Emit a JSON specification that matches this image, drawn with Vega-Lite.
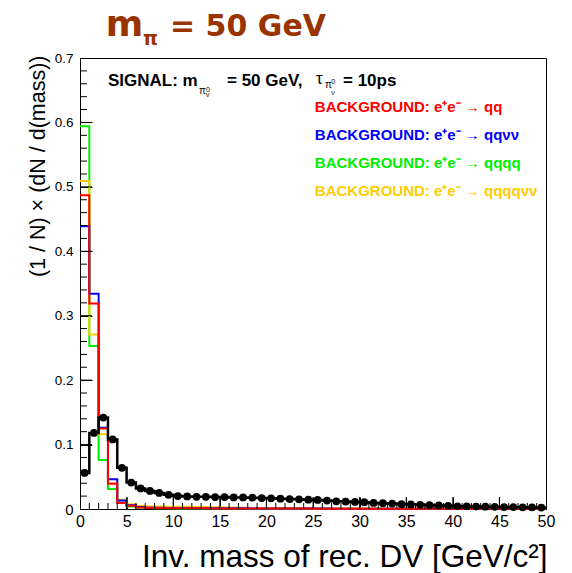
{
  "$schema": "https://vega.github.io/schema/vega-lite/v6.json",
  "width": 466,
  "height": 451,
  "autosize": {"type": "none"},
  "padding": {"left": 80, "top": 58, "right": 26, "bottom": 64},
  "background": "white",
  "config": {
    "view": {"stroke": "#000000", "strokeWidth": 1},
    "font": "Liberation Sans",
    "axis": {"grid": false, "labelFlush": false, "ticks": true, "tickWidth": 1, "tickOpacity": 1, "tickColor": "#000000", "domainColor": "#000000", "labelColor": "#000000", "zindex": 1}
  },
  "resolve": {"axis": {"x": "independent", "y": "independent"}},
  "datasets": {
    "bins": [
      {"lo": 0, "hi": 1, "mid": 0.5, "qqqq": 0.594, "qqqqvv": 0.509, "qqvv": 0.439, "qq": 0.487, "sig": 0.056},
      {"lo": 1, "hi": 2, "mid": 1.5, "qqqq": 0.253, "qqqqvv": 0.271, "qqvv": 0.334, "qq": 0.319, "sig": 0.118},
      {"lo": 2, "hi": 3, "mid": 2.5, "qqqq": 0.076, "qqqqvv": 0.116, "qqvv": 0.126, "qq": 0.125, "sig": 0.142},
      {"lo": 3, "hi": 4, "mid": 3.5, "qqqq": 0.031, "qqqqvv": 0.040, "qqvv": 0.046, "qq": 0.039, "sig": 0.108},
      {"lo": 4, "hi": 5, "mid": 4.5, "qqqq": 0.010, "qqqqvv": 0.0145, "qqvv": 0.013, "qq": 0.0093, "sig": 0.064},
      {"lo": 5, "hi": 6, "mid": 5.5, "qqqq": 0.004, "qqqqvv": 0.0075, "qqvv": 0.006, "qq": 0.005, "sig": 0.041},
      {"lo": 6, "hi": 7, "mid": 6.5, "qqqq": 0.0025, "qqqqvv": 0.0045, "qqvv": 0.003, "qq": 0.0025, "sig": 0.032},
      {"lo": 7, "hi": 8, "mid": 7.5, "qqqq": 0.0015, "qqqqvv": 0.004, "qqvv": 0.002, "qq": 0.0018, "sig": 0.028},
      {"lo": 8, "hi": 9, "mid": 8.5, "qqqq": 0.0012, "qqqqvv": 0.0038, "qqvv": 0.0018, "qq": 0.0015, "sig": 0.025},
      {"lo": 9, "hi": 10, "mid": 9.5, "qqqq": 0.001, "qqqqvv": 0.0036, "qqvv": 0.0016, "qq": 0.0013, "sig": 0.022},
      {"lo": 10, "hi": 11, "mid": 10.5, "qqqq": 0.0009, "qqqqvv": 0.0035, "qqvv": 0.0015, "qq": 0.0012, "sig": 0.020},
      {"lo": 11, "hi": 12, "mid": 11.5, "qqqq": 0.0008, "qqqqvv": 0.0034, "qqvv": 0.0014, "qq": 0.0011, "sig": 0.0195},
      {"lo": 12, "hi": 13, "mid": 12.5, "qqqq": 0.0008, "qqqqvv": 0.0032, "qqvv": 0.0013, "qq": 0.001, "sig": 0.019},
      {"lo": 13, "hi": 14, "mid": 13.5, "qqqq": 0.0007, "qqqqvv": 0.003, "qqvv": 0.0012, "qq": 0.001, "sig": 0.019},
      {"lo": 14, "hi": 15, "mid": 14.5, "qqqq": 0.0007, "qqqqvv": 0.0026, "qqvv": 0.0012, "qq": 0.0009, "sig": 0.0185},
      {"lo": 15, "hi": 16, "mid": 15.5, "qqqq": 0.0006, "qqqqvv": 0.0022, "qqvv": 0.0011, "qq": 0.0009, "sig": 0.0185},
      {"lo": 16, "hi": 17, "mid": 16.5, "qqqq": 0.0006, "qqqqvv": 0.002, "qqvv": 0.001, "qq": 0.0008, "sig": 0.018},
      {"lo": 17, "hi": 18, "mid": 17.5, "qqqq": 0.0006, "qqqqvv": 0.0018, "qqvv": 0.001, "qq": 0.0008, "sig": 0.018},
      {"lo": 18, "hi": 19, "mid": 18.5, "qqqq": 0.0005, "qqqqvv": 0.0016, "qqvv": 0.0009, "qq": 0.0008, "sig": 0.0175},
      {"lo": 19, "hi": 20, "mid": 19.5, "qqqq": 0.0005, "qqqqvv": 0.0015, "qqvv": 0.0009, "qq": 0.0007, "sig": 0.017},
      {"lo": 20, "hi": 21, "mid": 20.5, "qqqq": 0.0005, "qqqqvv": 0.0014, "qqvv": 0.0008, "qq": 0.0007, "sig": 0.0165},
      {"lo": 21, "hi": 22, "mid": 21.5, "qqqq": 0.0005, "qqqqvv": 0.0013, "qqvv": 0.0008, "qq": 0.0007, "sig": 0.016},
      {"lo": 22, "hi": 23, "mid": 22.5, "qqqq": 0.0004, "qqqqvv": 0.0012, "qqvv": 0.0007, "qq": 0.0006, "sig": 0.0155},
      {"lo": 23, "hi": 24, "mid": 23.5, "qqqq": 0.0004, "qqqqvv": 0.0011, "qqvv": 0.0007, "qq": 0.0006, "sig": 0.015},
      {"lo": 24, "hi": 25, "mid": 24.5, "qqqq": 0.0004, "qqqqvv": 0.001, "qqvv": 0.0006, "qq": 0.0006, "sig": 0.0145},
      {"lo": 25, "hi": 26, "mid": 25.5, "qqqq": 0.0004, "qqqqvv": 0.0009, "qqvv": 0.0006, "qq": 0.0005, "sig": 0.014},
      {"lo": 26, "hi": 27, "mid": 26.5, "qqqq": 0.0003, "qqqqvv": 0.0009, "qqvv": 0.0006, "qq": 0.0005, "sig": 0.013},
      {"lo": 27, "hi": 28, "mid": 27.5, "qqqq": 0.0003, "qqqqvv": 0.0008, "qqvv": 0.0005, "qq": 0.0005, "sig": 0.012},
      {"lo": 28, "hi": 29, "mid": 28.5, "qqqq": 0.0003, "qqqqvv": 0.0007, "qqvv": 0.0005, "qq": 0.0005, "sig": 0.0115},
      {"lo": 29, "hi": 30, "mid": 29.5, "qqqq": 0.0003, "qqqqvv": 0.0007, "qqvv": 0.0005, "qq": 0.0004, "sig": 0.011},
      {"lo": 30, "hi": 31, "mid": 30.5, "qqqq": 0.0003, "qqqqvv": 0.0006, "qqvv": 0.0004, "qq": 0.0004, "sig": 0.0105},
      {"lo": 31, "hi": 32, "mid": 31.5, "qqqq": 0.0002, "qqqqvv": 0.0006, "qqvv": 0.0004, "qq": 0.0004, "sig": 0.0095},
      {"lo": 32, "hi": 33, "mid": 32.5, "qqqq": 0.0002, "qqqqvv": 0.0005, "qqvv": 0.0004, "qq": 0.0004, "sig": 0.009},
      {"lo": 33, "hi": 34, "mid": 33.5, "qqqq": 0.0002, "qqqqvv": 0.0005, "qqvv": 0.0004, "qq": 0.0003, "sig": 0.0085},
      {"lo": 34, "hi": 35, "mid": 34.5, "qqqq": 0.0002, "qqqqvv": 0.0004, "qqvv": 0.0003, "qq": 0.0003, "sig": 0.0075},
      {"lo": 35, "hi": 36, "mid": 35.5, "qqqq": 0.0002, "qqqqvv": 0.0004, "qqvv": 0.0003, "qq": 0.0003, "sig": 0.007},
      {"lo": 36, "hi": 37, "mid": 36.5, "qqqq": 0.0002, "qqqqvv": 0.0004, "qqvv": 0.0003, "qq": 0.0003, "sig": 0.0065},
      {"lo": 37, "hi": 38, "mid": 37.5, "qqqq": 0.0002, "qqqqvv": 0.0003, "qqvv": 0.0003, "qq": 0.0003, "sig": 0.006},
      {"lo": 38, "hi": 39, "mid": 38.5, "qqqq": 0.0001, "qqqqvv": 0.0003, "qqvv": 0.0003, "qq": 0.0003, "sig": 0.0055},
      {"lo": 39, "hi": 40, "mid": 39.5, "qqqq": 0.0001, "qqqqvv": 0.0003, "qqvv": 0.0002, "qq": 0.0002, "sig": 0.005},
      {"lo": 40, "hi": 41, "mid": 40.5, "qqqq": 0.0001, "qqqqvv": 0.0003, "qqvv": 0.0002, "qq": 0.0002, "sig": 0.0042},
      {"lo": 41, "hi": 42, "mid": 41.5, "qqqq": 0.0001, "qqqqvv": 0.0002, "qqvv": 0.0002, "qq": 0.0002, "sig": 0.004},
      {"lo": 42, "hi": 43, "mid": 42.5, "qqqq": 0.0001, "qqqqvv": 0.0002, "qqvv": 0.0002, "qq": 0.0002, "sig": 0.0038},
      {"lo": 43, "hi": 44, "mid": 43.5, "qqqq": 0.0001, "qqqqvv": 0.0002, "qqvv": 0.0002, "qq": 0.0002, "sig": 0.0035},
      {"lo": 44, "hi": 45, "mid": 44.5, "qqqq": 0.0001, "qqqqvv": 0.0002, "qqvv": 0.0002, "qq": 0.0002, "sig": 0.0033},
      {"lo": 45, "hi": 46, "mid": 45.5, "qqqq": 0.0001, "qqqqvv": 0.0002, "qqvv": 0.0002, "qq": 0.0002, "sig": 0.003},
      {"lo": 46, "hi": 47, "mid": 46.5, "qqqq": 0.0001, "qqqqvv": 0.0002, "qqvv": 0.0001, "qq": 0.0002, "sig": 0.0028},
      {"lo": 47, "hi": 48, "mid": 47.5, "qqqq": 0.0001, "qqqqvv": 0.0001, "qqvv": 0.0001, "qq": 0.0001, "sig": 0.0026},
      {"lo": 48, "hi": 49, "mid": 48.5, "qqqq": 0.0001, "qqqqvv": 0.0001, "qqvv": 0.0001, "qq": 0.0001, "sig": 0.0024},
      {"lo": 49, "hi": 50, "mid": 49.5, "qqqq": 0.0001, "qqqqvv": 0.0001, "qqvv": 0.0001, "qq": 0.0001, "sig": 0.0022}
    ],
    "xMajorTicks": [{"m": 5}, {"m": 10}, {"m": 15}, {"m": 20}, {"m": 25}, {"m": 30}, {"m": 35}, {"m": 40}, {"m": 45}],
    "xMinorTicks": [
      {"m": 1}, {"m": 2}, {"m": 3}, {"m": 4}, {"m": 6}, {"m": 7}, {"m": 8}, {"m": 9},
      {"m": 11}, {"m": 12}, {"m": 13}, {"m": 14}, {"m": 16}, {"m": 17}, {"m": 18}, {"m": 19},
      {"m": 21}, {"m": 22}, {"m": 23}, {"m": 24}, {"m": 26}, {"m": 27}, {"m": 28}, {"m": 29},
      {"m": 31}, {"m": 32}, {"m": 33}, {"m": 34}, {"m": 36}, {"m": 37}, {"m": 38}, {"m": 39},
      {"m": 41}, {"m": 42}, {"m": 43}, {"m": 44}, {"m": 46}, {"m": 47}, {"m": 48}, {"m": 49}
    ],
    "yMajorTicks": [{"m": 0.1}, {"m": 0.2}, {"m": 0.3}, {"m": 0.4}, {"m": 0.5}, {"m": 0.6}],
    "yMinorTicks": [
      {"m": 0.02}, {"m": 0.04}, {"m": 0.06}, {"m": 0.08},
      {"m": 0.12}, {"m": 0.14}, {"m": 0.16}, {"m": 0.18},
      {"m": 0.22}, {"m": 0.24}, {"m": 0.26}, {"m": 0.28},
      {"m": 0.32}, {"m": 0.34}, {"m": 0.36}, {"m": 0.38},
      {"m": 0.42}, {"m": 0.44}, {"m": 0.46}, {"m": 0.48},
      {"m": 0.52}, {"m": 0.54}, {"m": 0.56}, {"m": 0.58},
      {"m": 0.62}, {"m": 0.64}, {"m": 0.66}, {"m": 0.68}
    ]
  },
  "layer": [
    {
      "data": {"name": "bins"},
      "transform": [
        {"fold": ["qqqq", "qqqqvv", "qqvv", "qq"], "as": ["proc", "v"]},
        {"fold": ["lo", "hi"], "as": ["edge", "mass"]}
      ],
      "mark": {"type": "line", "strokeWidth": 2, "interpolate": "linear", "strokeJoin": "miter"},
      "encoding": {
        "x": {
          "field": "mass", "type": "quantitative",
          "scale": {"domain": [0, 50], "nice": false, "zero": false},
          "axis": {
            "orient": "bottom",
            "values": [0, 5, 10, 15, 20, 25, 30, 35, 40, 45, 50],
            "ticks": true,
            "tickSize": -12,
            "tickWidth": 1,
            "tickColor": "#000000",
            "labelFont": "Liberation Sans",
            "labelFontSize": 16,
            "labelPadding": 16,
            "labelOverlap": false,
            "title": "Inv. mass of rec. DV [GeV/c²]",
            "titleFont": "Liberation Sans",
            "titleFontSize": 31.5,
            "titleFontWeight": "normal",
            "titleColor": "#000000",
            "titleX": 467,
            "titleY": 57,
            "titleAlign": "right",
            "titleBaseline": "alphabetic"
          }
        },
        "y": {
          "field": "v", "type": "quantitative",
          "scale": {"domain": [0, 0.7], "nice": false},
          "axis": {
            "orient": "left",
            "values": [0, 0.1, 0.2, 0.3, 0.4, 0.5, 0.6, 0.7],
            "format": ".1~f",
            "ticks": true,
            "tickSize": -12,
            "tickWidth": 1,
            "tickColor": "#000000",
            "labelFont": "Liberation Sans",
            "labelFontSize": {"condition": {"test": "datum.value === 0", "value": 15}, "value": 13.5},
            "labelPadding": 19,
            "labelOverlap": false,
            "title": "(1 / N) × (dN / d(mass))",
            "titleFont": "Liberation Sans",
            "titleFontSize": 21.5,
            "titleFontWeight": "normal",
            "titleColor": "#000000",
            "titleAngle": -90,
            "titleX": -36,
            "titleY": -3,
            "titleAlign": "right",
            "titleBaseline": "alphabetic"
          }
        },
        "color": {
          "field": "proc", "type": "nominal",
          "scale": {"domain": ["qqqq", "qqqqvv", "qqvv", "qq"], "range": ["#00ee00", "#ffcc00", "#0000ff", "#ff0000"]},
          "legend": null
        },
        "order": [
          {"field": "mass", "type": "quantitative"},
          {"field": "edge", "type": "nominal"}
        ]
      }
    },
    {
      "data": {"name": "bins"},
      "transform": [
        {"fold": ["lo", "hi"], "as": ["edge", "mass"]}
      ],
      "mark": {"type": "line", "strokeWidth": 2.5, "color": "#000000", "interpolate": "linear", "strokeJoin": "miter"},
      "encoding": {
        "x": {"field": "mass", "type": "quantitative", "axis": null},
        "y": {"field": "sig", "type": "quantitative", "axis": null},
        "order": [
          {"field": "mass", "type": "quantitative"},
          {"field": "edge", "type": "nominal"}
        ]
      }
    },
    {
      "data": {"name": "bins"},
      "mark": {"type": "point", "filled": true, "color": "#000000", "opacity": 1, "size": 60, "shape": "circle"},
      "encoding": {
        "x": {"field": "mid", "type": "quantitative", "axis": null},
        "y": {"field": "sig", "type": "quantitative", "axis": null}
      }
    },
    {
      "data": {"name": "xMajorTicks"},
      "mark": {"type": "rule", "color": "#000000", "strokeWidth": 1},
      "encoding": {
        "x": {"field": "m", "type": "quantitative", "axis": null},
        "y": {"datum": 0, "axis": null},
        "y2": {"datum": 0.0186}
      }
    },
    {
      "data": {"name": "xMinorTicks"},
      "mark": {"type": "rule", "color": "#000000", "strokeWidth": 1},
      "encoding": {
        "x": {"field": "m", "type": "quantitative", "axis": null},
        "y": {"datum": 0, "axis": null},
        "y2": {"datum": 0.0093}
      }
    },
    {
      "data": {"name": "yMajorTicks"},
      "mark": {"type": "rule", "color": "#000000", "strokeWidth": 1},
      "encoding": {
        "y": {"field": "m", "type": "quantitative", "axis": null},
        "x": {"datum": 0, "axis": null},
        "x2": {"datum": 1.29}
      }
    },
    {
      "data": {"name": "yMinorTicks"},
      "mark": {"type": "rule", "color": "#000000", "strokeWidth": 1},
      "encoding": {
        "y": {"field": "m", "type": "quantitative", "axis": null},
        "x": {"datum": 0, "axis": null},
        "x2": {"datum": 0.75}
      }
    },
    {
      "data": {"values": [{"t": "m"}]},
      "mark": {"type": "text", "align": "left", "baseline": "alphabetic", "font": "DejaVu Sans", "fontWeight": "bold", "fontSize": 36, "color": "#993300"},
      "encoding": {"text": {"field": "t"}, "x": {"datum": 2.75, "axis": null}, "y": {"datum": 0.7341, "axis": null}}
    },
    {
      "data": {"values": [{"t": "π"}]},
      "mark": {"type": "text", "align": "left", "baseline": "alphabetic", "font": "DejaVu Sans", "fontWeight": "bold", "fontSize": 19, "color": "#993300"},
      "encoding": {"text": {"field": "t"}, "x": {"datum": 6.75, "axis": null}, "y": {"datum": 0.7202, "axis": null}}
    },
    {
      "data": {"values": [{"t": "= 50 GeV"}]},
      "mark": {"type": "text", "align": "left", "baseline": "alphabetic", "font": "DejaVu Sans", "fontWeight": "bold", "fontSize": 30, "color": "#993300"},
      "encoding": {"text": {"field": "t"}, "x": {"datum": 9.66, "axis": null}, "y": {"datum": 0.7341, "axis": null}}
    },
    {
      "data": {"values": [{"t": "SIGNAL: m"}]},
      "mark": {"type": "text", "align": "left", "baseline": "alphabetic", "font": "Liberation Sans", "fontWeight": "bold", "fontSize": 17, "color": "#000000"},
      "encoding": {"text": {"field": "t"}, "x": {"datum": 3.0, "axis": null}, "y": {"datum": 0.6565, "axis": null}}
    },
    {
      "data": {"values": [{"t": "π"}]},
      "mark": {"type": "text", "align": "left", "baseline": "alphabetic", "font": "Liberation Sans", "fontSize": 10, "color": "#000000"},
      "encoding": {"text": {"field": "t"}, "x": {"datum": 12.77, "axis": null}, "y": {"datum": 0.6441, "axis": null}}
    },
    {
      "data": {"values": [{"t": "0"}]},
      "mark": {"type": "text", "align": "left", "baseline": "alphabetic", "font": "Liberation Sans", "fontSize": 7, "color": "#000000"},
      "encoding": {"text": {"field": "t"}, "x": {"datum": 13.52, "axis": null}, "y": {"datum": 0.648, "axis": null}}
    },
    {
      "data": {"values": [{"t": "ν"}]},
      "mark": {"type": "text", "align": "left", "baseline": "alphabetic", "font": "Liberation Sans", "fontSize": 7, "color": "#000000"},
      "encoding": {"text": {"field": "t"}, "x": {"datum": 13.52, "axis": null}, "y": {"datum": 0.6387, "axis": null}}
    },
    {
      "data": {"values": [{"t": "= 50 GeV,"}]},
      "mark": {"type": "text", "align": "left", "baseline": "alphabetic", "font": "Liberation Sans", "fontWeight": "bold", "fontSize": 17, "color": "#000000"},
      "encoding": {"text": {"field": "t"}, "x": {"datum": 15.77, "axis": null}, "y": {"datum": 0.6565, "axis": null}}
    },
    {
      "data": {"values": [{"t": "τ"}]},
      "mark": {"type": "text", "align": "left", "baseline": "alphabetic", "font": "Liberation Sans", "fontSize": 17, "color": "#000000"},
      "encoding": {"text": {"field": "t"}, "x": {"datum": 25.32, "axis": null}, "y": {"datum": 0.6596, "axis": null}}
    },
    {
      "data": {"values": [{"t": "π"}]},
      "mark": {"type": "text", "align": "left", "baseline": "alphabetic", "font": "Liberation Sans", "fontSize": 10, "color": "#000000"},
      "encoding": {"text": {"field": "t"}, "x": {"datum": 26.28, "axis": null}, "y": {"datum": 0.6527, "axis": null}}
    },
    {
      "data": {"values": [{"t": "0"}]},
      "mark": {"type": "text", "align": "left", "baseline": "alphabetic", "font": "Liberation Sans", "fontSize": 7, "color": "#000000"},
      "encoding": {"text": {"field": "t"}, "x": {"datum": 26.95, "axis": null}, "y": {"datum": 0.66, "axis": null}}
    },
    {
      "data": {"values": [{"t": "ν"}]},
      "mark": {"type": "text", "align": "left", "baseline": "alphabetic", "font": "Liberation Sans", "fontSize": 7, "color": "#000000"},
      "encoding": {"text": {"field": "t"}, "x": {"datum": 26.95, "axis": null}, "y": {"datum": 0.6426, "axis": null}}
    },
    {
      "data": {"values": [{"t": "= 10ps"}]},
      "mark": {"type": "text", "align": "left", "baseline": "alphabetic", "font": "Liberation Sans", "fontWeight": "bold", "fontSize": 17, "color": "#000000"},
      "encoding": {"text": {"field": "t"}, "x": {"datum": 28.22, "axis": null}, "y": {"datum": 0.6565, "axis": null}}
    },
    {
      "data": {"values": [{"t": "BACKGROUND: e⁺e⁻ → qq"}]},
      "mark": {"type": "text", "align": "left", "baseline": "alphabetic", "font": "Liberation Sans", "fontWeight": "bold", "fontSize": 15, "color": "#ff0000"},
      "encoding": {"text": {"field": "t"}, "x": {"datum": 25.2, "axis": null}, "y": {"datum": 0.6162, "axis": null}}
    },
    {
      "data": {"values": [{"t": "BACKGROUND: e⁺e⁻ → qqνν"}]},
      "mark": {"type": "text", "align": "left", "baseline": "alphabetic", "font": "Liberation Sans", "fontWeight": "bold", "fontSize": 15, "color": "#0000ff"},
      "encoding": {"text": {"field": "t"}, "x": {"datum": 25.2, "axis": null}, "y": {"datum": 0.5727, "axis": null}}
    },
    {
      "data": {"values": [{"t": "BACKGROUND: e⁺e⁻ → qqqq"}]},
      "mark": {"type": "text", "align": "left", "baseline": "alphabetic", "font": "Liberation Sans", "fontWeight": "bold", "fontSize": 15, "color": "#00ee00"},
      "encoding": {"text": {"field": "t"}, "x": {"datum": 25.2, "axis": null}, "y": {"datum": 0.5293, "axis": null}}
    },
    {
      "data": {"values": [{"t": "BACKGROUND: e⁺e⁻ → qqqqνν"}]},
      "mark": {"type": "text", "align": "left", "baseline": "alphabetic", "font": "Liberation Sans", "fontWeight": "bold", "fontSize": 15, "color": "#ffcc00"},
      "encoding": {"text": {"field": "t"}, "x": {"datum": 25.2, "axis": null}, "y": {"datum": 0.4858, "axis": null}}
    }
  ]
}
